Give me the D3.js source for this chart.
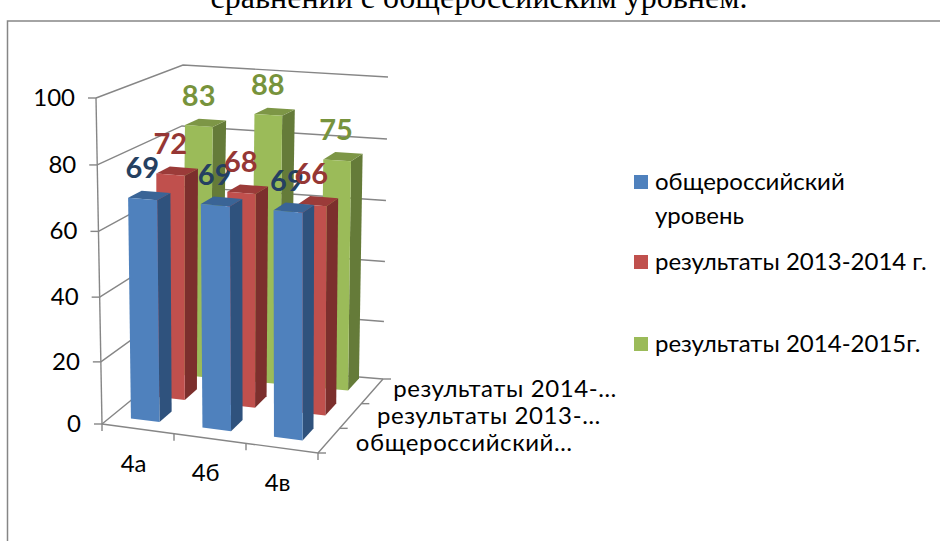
<!DOCTYPE html>
<html><head><meta charset="utf-8">
<script src="https://cdn.jsdelivr.net/npm/d3@7"></script>
<style>html,body{margin:0;padding:0;background:#fff}svg{display:block}</style>
</head><body><svg id="c" width="940" height="541"></svg>
<script>
const categories = ["4а","4б","4в"];
const seriesNames = ["общероссийский уровень","результаты 2013-2014 г.","результаты 2014-2015г."];
const depthLabels = ["общероссийский…","результаты 2013-…","результаты 2014-…"];
const valuesRussia = [69,69,69];
const values1314 = [72,68,66];
const values1415 = [83,88,75];
const valueTicks = [0,20,40,60,80,100];
const allValues = [valuesRussia,values1314,values1415];
const faces = [
 {front:"#4F81BD",side:"#2F527D",top:"#3A6496",label:"#254061"},
 {front:"#C0504D",side:"#7C2F2D",top:"#9B3B39",label:"#953735"},
 {front:"#9BBB59",side:"#657B39",top:"#7D9646",label:"#77933C"}];
const F="Lato, 'Open Sans', sans-serif";
const GRID="#868686";
const corners={flb:[102,424],flt:[96,98],frb:[318,453],frt:[318,113],
               blb:[178,362],blt:[183,65],brb:[383,379],brt:[388,77]};
const lerp=(a,b,t)=>[a[0]+(b[0]-a[0])*t,a[1]+(b[1]-a[1])*t];
function proj(u,v,h){
  const c=corners;
  const fb=lerp(c.flb,c.frb,u),ft=lerp(c.flt,c.frt,u),bb=lerp(c.blb,c.brb,u),bt=lerp(c.blt,c.brt,u);
  return lerp(lerp(fb,bb,v),lerp(ft,bt,v),h);
}
const xBand=d3.scaleBand().domain(categories).range([-0.011,0.989]).paddingInner(.6).paddingOuter(.3);
const zBand=d3.scaleBand().domain(d3.range(3)).range([0.04,1.07]).paddingInner(.52).paddingOuter(.26);
const y=d3.scalePow().exponent(1.03).domain([0,100]).range([0,1]);
const svg=d3.select("#c");
const line=d3.line();
const poly=pts=>line(pts)+"Z";
svg.append("text").attr("x",479).attr("y",8).attr("text-anchor","middle")
  .attr("font-family","'Liberation Serif',serif").attr("font-size",32).attr("fill","#000")
  .text("сравнении с общероссийским уровнем.");
svg.append("path").attr("d","M7.5,541V21H940").attr("fill","none").attr("stroke",GRID).attr("stroke-width",1.5);
const g=svg.append("g").attr("fill","none").attr("stroke",GRID).attr("stroke-width",1.4);
valueTicks.forEach(t=>{
  const h=y(t);
  const a=proj(0,0,h),b=proj(0,1,h),c=proj(1,1,h);
  g.append("path").attr("d",line([a,b,c]));
  g.append("path").attr("d",line([[a[0]-8,a[1]],a]));
});
g.append("path").attr("d",line([proj(0,0,0),proj(0,0,1)]));
g.append("path").attr("d",line([proj(0,0,0),proj(1,0,0),proj(1,1,0)]));
[0,1,2,3].forEach(i=>{const p=proj(i/3,0,0);g.append("path").attr("d",line([p,[p[0],p[1]+7]]));});
[0,1,2,3].forEach(i=>{const p=proj(1,i/3,0);g.append("path").attr("d",line([p,[p[0]+8,p[1]]]));});
[2,1,0].forEach(s=>{
  categories.forEach((cat,i)=>{
    const u0=xBand(cat),u1=u0+xBand.bandwidth(),v0=zBand(s),v1=v0+zBand.bandwidth(),h=y(allValues[s][i]),f=faces[s];
    svg.append("path").attr("fill",f.side).attr("d",poly([proj(u1,v0,0),proj(u1,v1,0),proj(u1,v1,h),proj(u1,v0,h)]));
    svg.append("path").attr("fill",f.top).attr("d",poly([proj(u0,v0,h),proj(u1,v0,h),proj(u1,v1,h),proj(u0,v1,h)]));
    svg.append("path").attr("fill",f.front).attr("d",poly([proj(u0,v0,0),proj(u1,v0,0),proj(u1,v0,h),proj(u0,v0,h)]));
  });
});
[0,1,2].forEach(s=>{
  categories.forEach((cat,i)=>{
    const u=xBand(cat)+xBand.bandwidth()/2,v=zBand(s)+zBand.bandwidth()/2;
    const p=proj(u,v,y(allValues[s][i]));
    svg.append("text").attr("x",p[0]-7).attr("y",p[1]-17).attr("text-anchor","middle")
      .attr("font-family",F).attr("font-weight",700).attr("font-size",29).attr("fill",faces[s].label)
      .text(allValues[s][i]);
  });
});
valueTicks.forEach(t=>{
  const p=proj(0,0,y(t));
  svg.append("text").attr("x",p[0]-21).attr("y",p[1]+8).attr("text-anchor","end")
    .attr("font-family",F).attr("font-size",24).attr("fill","#000").text(t);
});
categories.forEach(c=>{
  const p=proj(xBand(c)+xBand.bandwidth()/2,0,0);
  svg.append("text").attr("x",p[0]-2).attr("y",p[1]+43).attr("text-anchor","middle")
    .attr("font-family",F).attr("font-size",24).attr("fill","#000").text(c);
});
const depthV=[1/6,1/2,5/6];
const depthDx=[27,26.5,21];
depthLabels.forEach((d,i)=>{
  const p=proj(1,depthV[i],0);
  svg.append("text").attr("x",p[0]+depthDx[i]).attr("y",p[1]+10-i*2).attr("font-family",F).attr("font-size",24).attr("letter-spacing",.6).attr("fill","#000").text(d);
});
const legendY=[182,262,344];
const legendLines=[["общероссийский","уровень"],["результаты 2013-2014 г."],["результаты 2014-2015г."]];
legendLines.forEach((ls,i)=>{
  svg.append("rect").attr("x",634).attr("y",legendY[i]-7).attr("width",14).attr("height",14).attr("fill",faces[i].front);
  ls.forEach((t,j)=>svg.append("text").attr("x",655).attr("y",legendY[i]+8+j*34)
    .attr("font-family",F).attr("font-size",24).attr("fill","#000").text(t));
});
</script></body></html>
